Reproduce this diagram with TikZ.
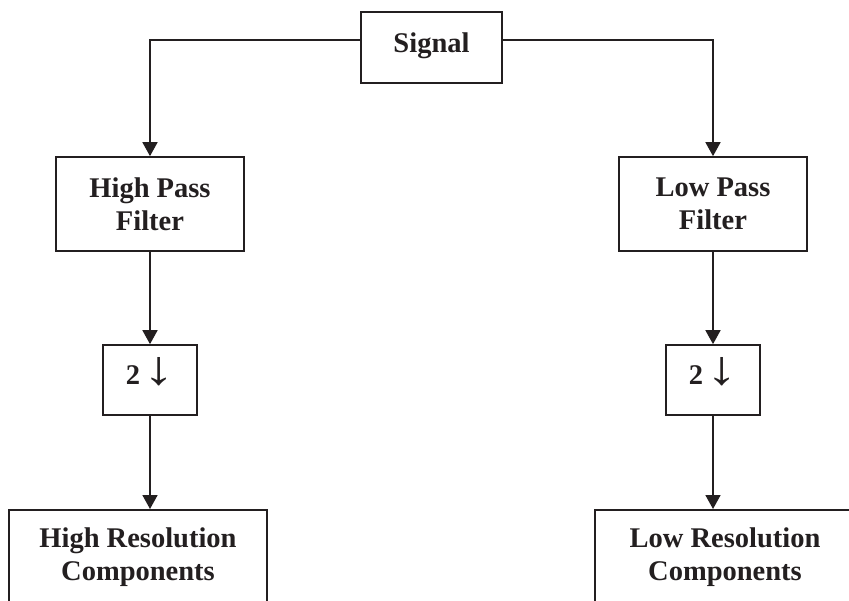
\documentclass[tikz,border=0pt]{standalone}
\usepackage{fontspec}
\usepackage{graphicx}
\setmainfont{Liberation Serif}
\usetikzlibrary{arrows.meta}
\definecolor{ink}{RGB}{35,31,32}
% downsampling mark: a plain arrow, stretched above cap height
\newcommand\downmark{{\mdseries\scalebox{1.3}[1]{\resizebox{!}{27pt}{↓}}}}
\begin{document}
\begin{tikzpicture}[x=1pt,y=-1pt,
  every node/.style={font=\fontsize{28.5}{33}\selectfont\bfseries, text=ink},
  blockbox/.style={draw=ink, line width=1.7pt, fill=white, align=center, inner sep=0pt},
  downbox/.style={blockbox, minimum width=94pt, minimum height=70pt, text height=39pt, text depth=31pt},
  flow/.style={draw=ink, line width=1.7pt, -{Triangle[width=15pt,length=14pt]}}]
\begin{scope}
\clip (0,0) rectangle (849,600);

% signal source
\node[blockbox, minimum width=141pt, minimum height=71pt, text height=40pt, text depth=31pt] (sig) at (431.5,47.5) {Signal};

% filters
\node[blockbox, minimum width=188pt, minimum height=94pt] (hpf) at (150,204) {High Pass\\Filter};
\node[blockbox, minimum width=188pt, minimum height=94pt] (lpf) at (713,204) {Low Pass\\Filter};

% downsamplers
\node[downbox] (dsh) at (150,380) {2\hspace{3pt}\downmark};
\node[downbox] (dsl) at (713,380) {2\hspace{3pt}\downmark};

% outputs
\node[blockbox, anchor=north, minimum width=258pt, inner ysep=18pt] (hrc) at (138,509) {High Resolution\\Components};
\node[blockbox, anchor=north, minimum width=260pt, inner ysep=18pt] (lrc) at (725,509) {Low Resolution\\Components};

% connectors
\draw[flow] ([yshift=7.5pt]sig.west) -| (hpf.north);
\draw[flow] ([yshift=7.5pt]sig.east) -| (lpf.north);
\draw[flow] (hpf.south) -- (dsh.north);
\draw[flow] (lpf.south) -- (dsl.north);
\draw[flow] (dsh.south) -- (dsh.south |- hrc.north);
\draw[flow] (dsl.south) -- (dsl.south |- lrc.north);
\end{scope}
\pgfresetboundingbox
\useasboundingbox (0,0) rectangle (849,600);
\end{tikzpicture}
\end{document}
